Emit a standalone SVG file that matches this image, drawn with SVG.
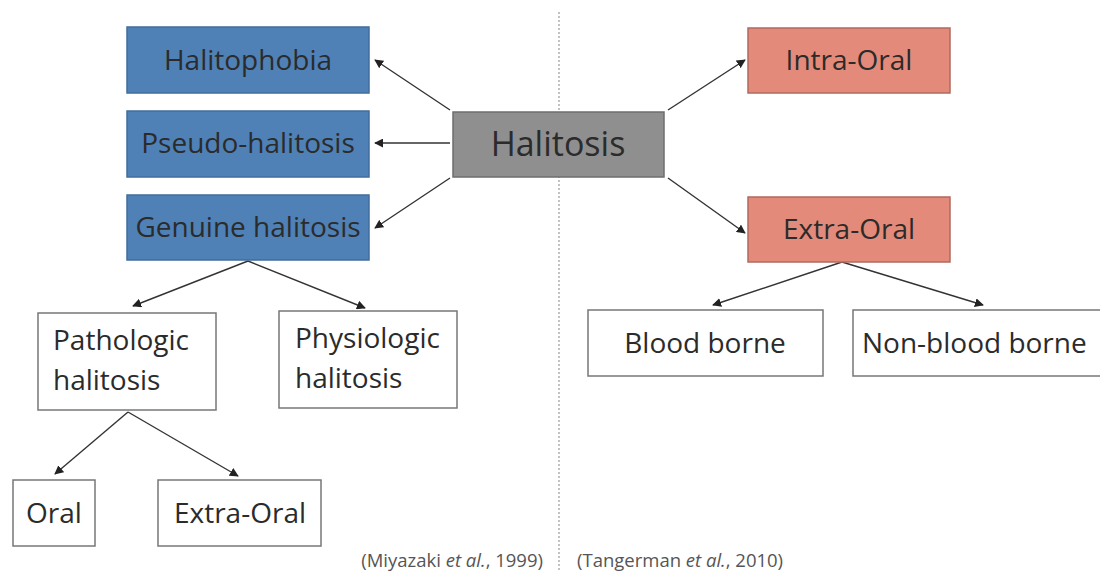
<svg xmlns="http://www.w3.org/2000/svg" width="1100" height="571" viewBox="0 0 1100 571">
<style>
.t{font-family:"Open Sans","Liberation Sans",sans-serif;font-size:28px;fill:#2b2b2b}
.blue{fill:#4f81b6;stroke:#3f6d9c;stroke-width:1.5}
.red{fill:#e38a7a;stroke:#b06a5e;stroke-width:1.5}
.grey{fill:#8f8f90;stroke:#6e6e6e;stroke-width:1.5}
.white{fill:#fff;stroke:#777;stroke-width:1.5}
.c{stroke:#333;stroke-width:1.4;fill:none;marker-end:url(#ah)}
.ref{font-family:"Open Sans","Liberation Sans",sans-serif;font-size:18.5px;fill:#555}
</style>
<defs>
<marker id="ah" viewBox="0 0 10 10" refX="9" refY="5" markerWidth="9" markerHeight="9" markerUnits="userSpaceOnUse" orient="auto">
<path d="M0,0 L10,5 L0,10 z" fill="#222"/>
</marker>
</defs>
<rect width="1100" height="571" fill="#fff"/>
<line x1="559" y1="12" x2="559" y2="571" stroke="#999" stroke-width="1.2" stroke-dasharray="2,2"/>
<g id="connectors">
<line class="c" x1="450" y1="110" x2="375" y2="60"/>
<line class="c" x1="450" y1="143" x2="375" y2="143"/>
<line class="c" x1="450" y1="178" x2="375" y2="228"/>
<line class="c" x1="668" y1="110" x2="745" y2="60"/>
<line class="c" x1="668" y1="178" x2="745" y2="233"/>
<line class="c" x1="248" y1="261" x2="133" y2="306"/>
<line class="c" x1="248" y1="261" x2="365" y2="308"/>
<line class="c" x1="128" y1="412" x2="55" y2="474"/>
<line class="c" x1="128" y1="412" x2="238" y2="476"/>
<line class="c" x1="842" y1="262" x2="713" y2="305"/>
<line class="c" x1="842" y1="262" x2="983" y2="305"/>
</g>
<g id="halitosis"><rect class="grey" x="453" y="112" width="211" height="65"/><text class="t" x="558" y="156" text-anchor="middle" style="font-size:34px">Halitosis</text></g>
<g id="halitophobia"><rect class="blue" x="127" y="27" width="242" height="66"/><text class="t" x="248" y="70" text-anchor="middle">Halitophobia</text></g>
<g id="pseudo"><rect class="blue" x="127" y="111" width="242" height="66"/><text class="t" x="248" y="153" text-anchor="middle">Pseudo-halitosis</text></g>
<g id="genuine"><rect class="blue" x="127" y="195" width="242" height="65"/><text class="t" x="248" y="237" text-anchor="middle">Genuine halitosis</text></g>
<g id="intra"><rect class="red" x="748" y="28" width="202" height="65"/><text class="t" x="849" y="70" text-anchor="middle">Intra-Oral</text></g>
<g id="extra"><rect class="red" x="748" y="197" width="202" height="65"/><text class="t" x="849" y="239" text-anchor="middle">Extra-Oral</text></g>
<g id="pathologic"><rect class="white" x="38" y="313" width="178" height="97"/><text class="t" x="53" y="350">Pathologic</text><text class="t" x="53" y="390">halitosis</text></g>
<g id="physiologic"><rect class="white" x="279" y="311" width="178" height="97"/><text class="t" x="295" y="348">Physiologic</text><text class="t" x="295" y="388">halitosis</text></g>
<g id="oral"><rect class="white" x="13" y="480" width="82" height="66"/><text class="t" x="54" y="523" text-anchor="middle">Oral</text></g>
<g id="extraoral2"><rect class="white" x="158" y="480" width="163" height="66"/><text class="t" x="240" y="523" text-anchor="middle">Extra-Oral</text></g>
<g id="blood"><rect class="white" x="588" y="310" width="235" height="66"/><text class="t" x="705" y="353" text-anchor="middle">Blood borne</text></g>
<g id="nonblood"><rect class="white" x="853" y="310" width="260" height="66"/><text class="t" x="862" y="353">Non-blood borne</text></g>
<g id="refs">
<text class="ref" x="543" y="567" text-anchor="end">(Miyazaki <tspan font-style="italic">et al.</tspan>, 1999)</text>
<text class="ref" x="577" y="567">(Tangerman <tspan font-style="italic">et al.</tspan>, 2010)</text>
</g>
</svg>
